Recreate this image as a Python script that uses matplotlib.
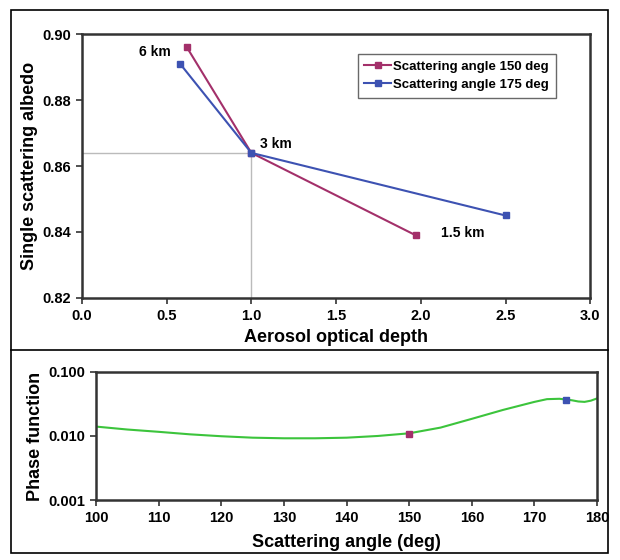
import matplotlib
matplotlib.use('Agg')
import matplotlib.pyplot as plt
from matplotlib.patches import Rectangle
from matplotlib.lines import Line2D

plt.rcParams['font.family'] = ['Liberation Sans', 'DejaVu Sans']
plt.rcParams['font.weight'] = 'bold'

# top panel data
aod_150 = [0.62, 1.0, 1.97]
ssa_150 = [0.896, 0.864, 0.839]
aod_175 = [0.58, 1.0, 2.5]
ssa_175 = [0.891, 0.864, 0.845]
height_labels = ['6 km', '3 km', '1.5 km']
label_x = [0.34, 1.05, 2.12]
label_y = [0.8945, 0.8668, 0.8398]

# bottom panel data
angle = [100, 105, 110, 115, 120, 125, 130, 135, 140, 145, 150, 155, 160, 165, 170, 172, 174, 176, 177, 178, 179, 180]
phase = [0.0140, 0.0126, 0.0116, 0.0106, 0.0099, 0.0094, 0.0092, 0.0092, 0.0094, 0.0100, 0.0110, 0.0135,
         0.0185, 0.0255, 0.0340, 0.0375, 0.0380, 0.0360, 0.0345, 0.0340, 0.0355, 0.0385]
mark_angle = [150, 175]
mark_phase = [0.0108, 0.0365]

c150 = '#A3306A'
c175 = '#3D52B2'
cgreen = '#3CC43C'
frame = '#333333'

fig = plt.figure(figsize=(6.2, 5.6), dpi=100)

# outer frame and separator
fig.add_artist(Rectangle((0.018, 0.012), 0.963, 0.97, transform=fig.transFigure,
                         fill=False, edgecolor='black', linewidth=1.2))
fig.add_artist(Line2D([0.018, 0.981], [0.375, 0.375], transform=fig.transFigure,
                      color='black', linewidth=1.2))

ax = fig.add_axes([0.132, 0.468, 0.820, 0.471])
ax.plot([0, 1.0], [0.864, 0.864], color='#bbbbbb', linewidth=1)
ax.plot([1.0, 1.0], [0.82, 0.864], color='#bbbbbb', linewidth=1)
ax.plot(aod_150, ssa_150, color=c150, marker='s', markersize=5, linewidth=1.5,
        label='Scattering angle 150 deg')
ax.plot(aod_175, ssa_175, color=c175, marker='s', markersize=5, linewidth=1.5,
        label='Scattering angle 175 deg')
for t, x, y in zip(height_labels, label_x, label_y):
    ax.text(x, y, t, fontsize=10, fontweight='bold', ha='left', va='center')
ax.set_xlim(0, 3.0)
ax.set_ylim(0.82, 0.90)
ax.set_xticks([0, 0.5, 1.0, 1.5, 2.0, 2.5, 3.0])
ax.set_xticklabels(['0.0', '0.5', '1.0', '1.5', '2.0', '2.5', '3.0'])
ax.set_yticks([0.82, 0.84, 0.86, 0.88, 0.90])
ax.set_yticklabels(['0.82', '0.84', '0.86', '0.88', '0.90'])
ax.tick_params(labelsize=10.5, direction='out', length=4, width=1.2, color=frame, pad=4)
ax.set_xlabel('Aerosol optical depth', fontsize=13, fontweight='bold', labelpad=4)
ax.set_ylabel('Single scattering albedo', fontsize=13, fontweight='bold', labelpad=3)
for s in ax.spines.values():
    s.set_color(frame)
    s.set_linewidth(1.8)
leg = ax.legend(loc='upper right', bbox_to_anchor=(0.945, 0.95), fontsize=9.5,
                fancybox=False, edgecolor='#444444', handlelength=2.0, handletextpad=0.2,
                borderpad=0.5, labelspacing=0.45, markerscale=0.8)
leg.get_frame().set_linewidth(1.0)

ax2 = fig.add_axes([0.155, 0.107, 0.808, 0.229])
ax2.plot(angle, phase, color=cgreen, linewidth=1.5)
ax2.plot(mark_angle[0], mark_phase[0], 's', color=c150, markersize=5)
ax2.plot(mark_angle[1], mark_phase[1], 's', color=c175, markersize=5)
ax2.set_yscale('log')
ax2.set_xlim(100, 180)
ax2.set_ylim(0.001, 0.1)
ax2.set_xticks(range(100, 181, 10))
ax2.set_yticks([0.001, 0.01, 0.1])
ax2.set_yticklabels(['0.001', '0.010', '0.100'])
ax2.minorticks_off()
ax2.tick_params(labelsize=10.5, direction='out', length=4, width=1.2, color=frame, pad=4)
ax2.set_xlabel('Scattering angle (deg)', fontsize=13, fontweight='bold', labelpad=6)
ax2.set_ylabel('Phase function', fontsize=13, fontweight='bold', labelpad=3)
for s in ax2.spines.values():
    s.set_color(frame)
    s.set_linewidth(1.8)

fig.savefig('out.png', dpi=100)
